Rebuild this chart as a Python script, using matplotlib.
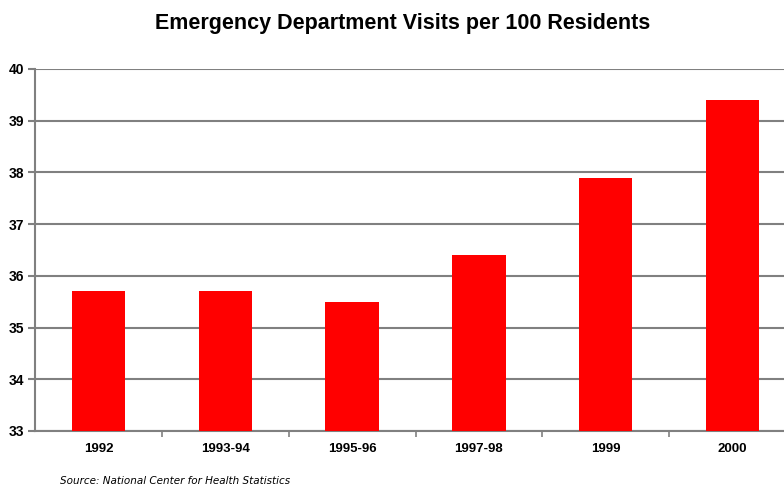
import matplotlib
matplotlib.use("Agg")
import matplotlib.pyplot as plt
import numpy as np

plt.rcParams['font.family'] = ['Liberation Sans', 'DejaVu Sans']

categories = ["1992", "1993-94", "1995-96", "1997-98", "1999", "2000"]
visits = [35.7, 35.7, 35.5, 36.4, 37.9, 39.4]
y_ticks = [33, 34, 35, 36, 37, 38, 39, 40]

fig = plt.figure(figsize=(7.84, 4.87), dpi=100)
ax = fig.add_axes([35 / 784, 56 / 487, 761 / 784, 362 / 487])

x = np.arange(len(categories))
ax.bar(x, [v - 33 for v in visits], bottom=33, width=0.42, color="#ff0000", zorder=3)

ax.set_ylim(33, 40)
ax.set_xlim(-0.5, len(categories) - 0.5)
ax.set_yticks(y_ticks)
ax.set_yticklabels([str(t) for t in y_ticks], fontsize=10, fontweight="bold")
ax.set_xticks(x)
ax.set_xticklabels(categories, fontsize=9.5, fontweight="bold")
ax.tick_params(axis="x", length=0, pad=9)
ax.set_xticks(np.arange(0.5, len(categories) - 0.5, 1), minor=True)
ax.tick_params(axis="x", which="minor", length=4, color="#808080", width=1.2)
ax.tick_params(axis="y", length=5, color="#808080", width=1.5, pad=3)

ax.yaxis.grid(True, color="#808080", linewidth=1.5, zorder=0)
for side in ["top", "right"]:
    ax.spines[side].set_visible(False)
for side in ["left", "bottom"]:
    ax.spines[side].set_color("#808080")
    ax.spines[side].set_linewidth(1.5)

fig.text(403 / 784, 1 - 23 / 487, "Emergency Department Visits per 100 Residents",
         ha="center", va="center", fontsize=15.5, fontweight="bold")
fig.text(60 / 784, 1 - 481 / 487, "Source: National Center for Health Statistics",
         ha="left", va="center", fontsize=7.5, style="italic", family="DejaVu Sans")

fig.savefig("out.png", dpi=100)
